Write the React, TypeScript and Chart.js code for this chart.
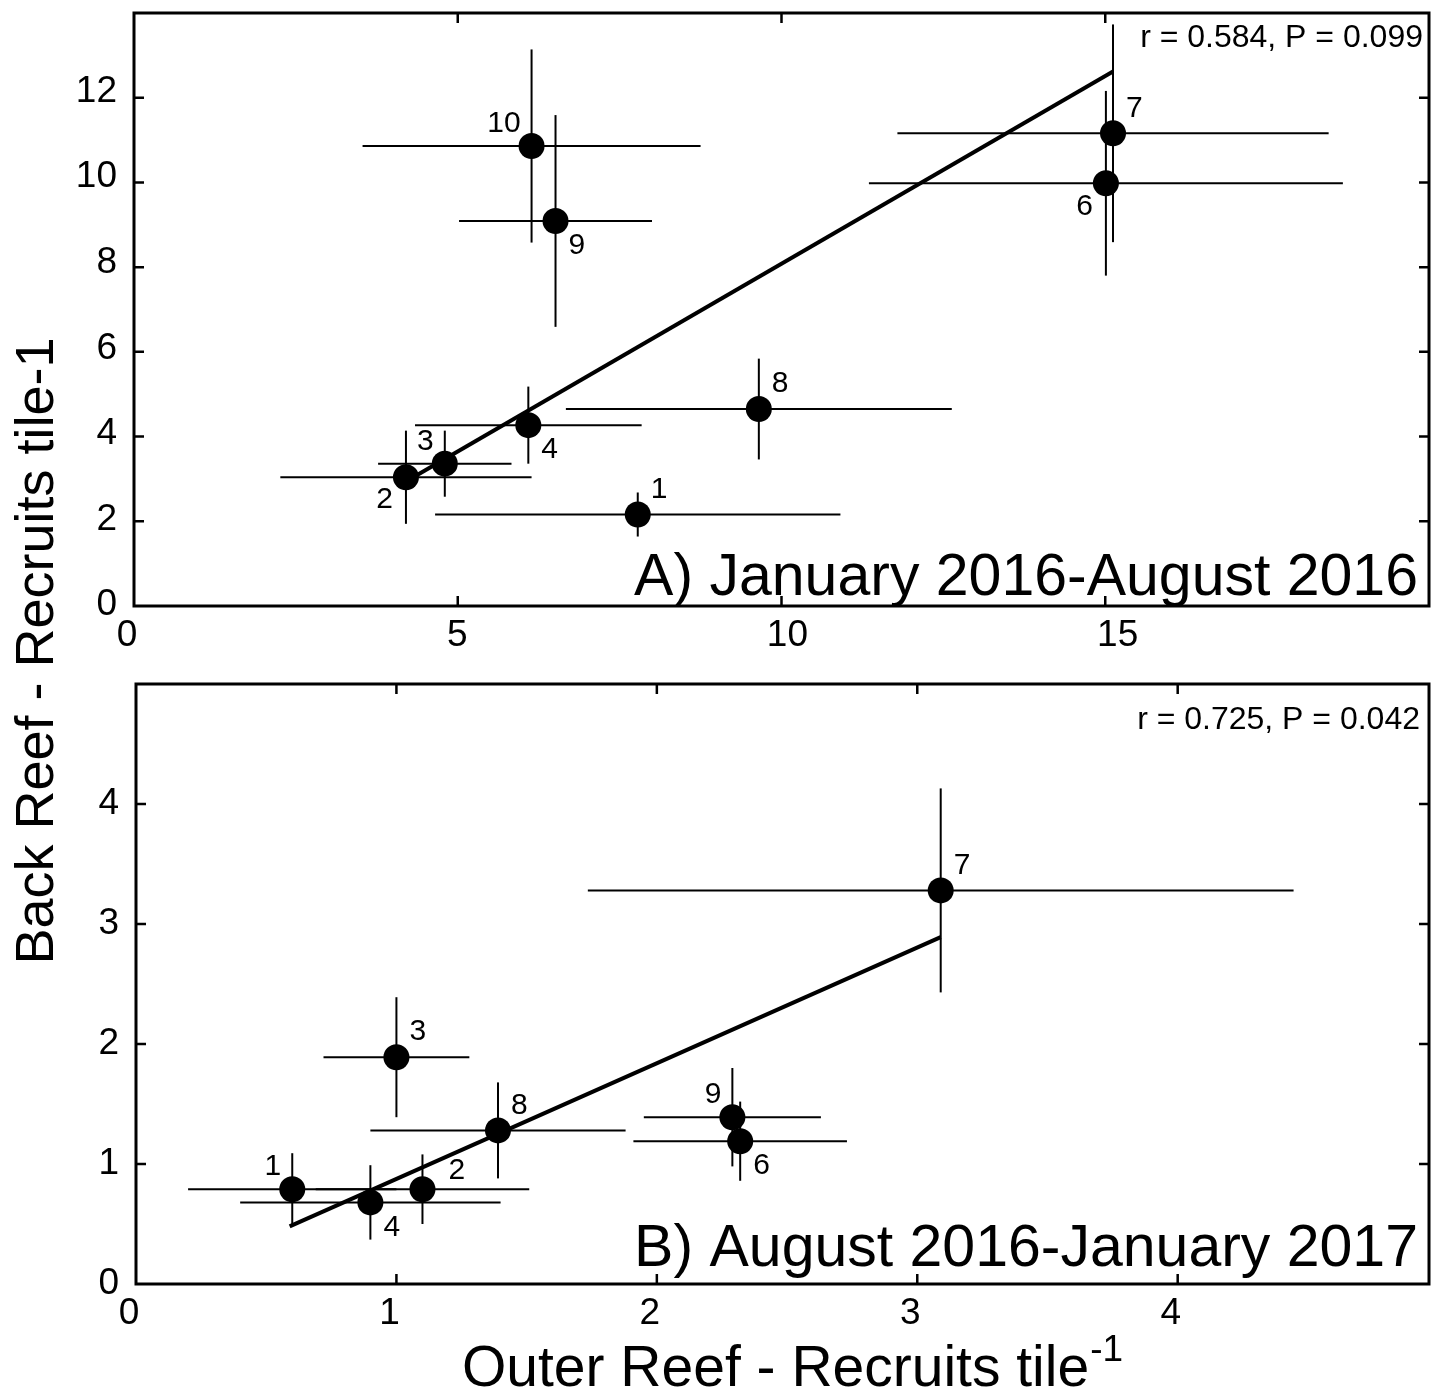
import React, { useEffect, useRef } from 'react';
import { Chart, registerables } from 'chart.js';

Chart.register(...registerables);

const W = 1442;
const H = 1395;
const FONT = '"Liberation Sans", Arial, Helvetica, sans-serif';

// ---------- Panel A: January 2016 - August 2016 ----------
const sitesA = ['1', '2', '3', '4', '6', '7', '8', '9', '10'];
const outerA = [7.78, 4.2, 4.8, 6.09, 15.01, 15.12, 9.65, 6.51, 6.14];
const backA = [2.16, 3.04, 3.36, 4.27, 9.98, 11.16, 4.65, 9.09, 10.86];
const outerErrA = [3.13, 1.94, 1.03, 1.75, 3.66, 3.33, 2.98, 1.49, 2.61];
const backErrA = [0.52, 1.1, 0.78, 0.91, 2.18, 2.57, 1.19, 2.5, 2.28];
const fitOuterA = [4.2, 15.12];
const fitBackA = [2.94, 12.62];
const xTicksA = [0, 5, 10, 15];
const yTicksA = [0, 2, 4, 6, 8, 10, 12];
const statA = 'r = 0.584, P = 0.099';
const titleA = 'A) January 2016-August 2016';

// ---------- Panel B: August 2016 - January 2017 ----------
const sitesB = ['1', '2', '3', '4', '6', '7', '8', '9'];
const outerB = [0.6, 1.1, 1.0, 0.9, 2.32, 3.09, 1.39, 2.29];
const backB = [0.79, 0.79, 1.89, 0.68, 1.19, 3.28, 1.28, 1.39];
const outerErrB = [0.4, 0.41, 0.28, 0.5, 0.41, 1.355, 0.49, 0.34];
const backErrB = [0.3, 0.29, 0.5, 0.31, 0.33, 0.85, 0.4, 0.41];
const fitOuterB = [0.59, 3.09];
const fitBackB = [0.48, 2.89];
const xTicksB = [0, 1, 2, 3, 4];
const yTicksB = [0, 1, 2, 3, 4];
const statB = 'r = 0.725, P = 0.042';
const titleB = 'B) August 2016-January 2017';

const yAxisTitle = 'Back Reef - Recruits tile-1';
const xAxisTitle = 'Outer Reef - Recruits tile';
const xAxisTitleSup = '-1';

// label placement around each marker (style only)
const labelPlaceA = ['ur', 'll', 'ul', 'lr', 'll', 'ur', 'ur', 'lr', 'ul'];
const labelPlaceB = ['ul', 'r', 'ur', 'lr', 'lr', 'ur', 'ur', 'ul'];

type Panel = {
  sites: string[];
  outer: number[];
  back: number[];
  outerErr: number[];
  backErr: number[];
  fitX: number[];
  fitY: number[];
  xTicks: number[];
  yTicks: number[];
  stat: string;
  title: string;
  place: string[];
  box: { left: number; top: number; right: number; bottom: number };
  xMax: number;
  yMax: number;
  // tick-label placement relative to the tick marks (style)
  xLab: { k: number; shift: number };
  yLab: { k: number; shift: number };
  statPos: { x: number; y: number };
  titlePos: { x: number; y: number };
  drawYTitle: boolean;
  drawXTitle: boolean;
};

const panelA: Panel = {
  sites: sitesA, outer: outerA, back: backA, outerErr: outerErrA, backErr: backErrA,
  fitX: fitOuterA, fitY: fitBackA, xTicks: xTicksA, yTicks: yTicksA,
  stat: statA, title: titleA, place: labelPlaceA,
  box: { left: 134, top: 10, right: 1433, bottom: 606 },
  xMax: 20, yMax: 14,
  xLab: { k: 1.02, shift: -7 }, yLab: { k: 1.01, shift: -1 },
  statPos: { x: 1423, y: 47 }, titlePos: { x: 1418, y: 595 },
  drawYTitle: true, drawXTitle: false,
};

const panelB: Panel = {
  sites: sitesB, outer: outerB, back: backB, outerErr: outerErrB, backErr: backErrB,
  fitX: fitOuterB, fitY: fitBackB, xTicks: xTicksB, yTicks: yTicksB,
  stat: statB, title: titleB, place: labelPlaceB,
  box: { left: 136, top: 684, right: 1433, bottom: 1284 },
  xMax: 4.965, yMax: 5,
  xLab: { k: 1, shift: -7 }, yLab: { k: 1, shift: 0 },
  statPos: { x: 1420, y: 729 }, titlePos: { x: 1418, y: 1266 },
  drawYTitle: false, drawXTitle: true,
};

const X_SCALE_H = 60;

function makePlugin(p: Panel) {
  return {
    id: 'panelDecor',
    afterDatasetsDraw(chart: any) {
      const { ctx, chartArea: a } = chart;
      const xs = chart.scales.x;
      const ys = chart.scales.y;
      ctx.save();
      ctx.strokeStyle = '#000';
      ctx.fillStyle = '#000';
      // frame
      ctx.lineWidth = 3;
      ctx.strokeRect(a.left, a.top, a.right - a.left, a.bottom - a.top);
      // inner ticks on all four sides
      ctx.lineWidth = 2.5;
      const TL = 10;
      ctx.beginPath();
      p.xTicks.forEach((v) => {
        const px = xs.getPixelForValue(v);
        if (px <= a.left + 2 || px >= a.right - 2) return;
        ctx.moveTo(px, a.bottom); ctx.lineTo(px, a.bottom - TL);
        ctx.moveTo(px, a.top); ctx.lineTo(px, a.top + TL);
      });
      p.yTicks.forEach((v) => {
        const py = ys.getPixelForValue(v);
        if (py <= a.top + 2 || py >= a.bottom - 2) return;
        ctx.moveTo(a.left, py); ctx.lineTo(a.left + TL, py);
        ctx.moveTo(a.right, py); ctx.lineTo(a.right - TL, py);
      });
      ctx.stroke();

      // tick labels
      ctx.font = `37px ${FONT}`;
      ctx.textBaseline = 'middle';
      ctx.textAlign = 'center';
      p.xTicks.forEach((v) => {
        const px = xs.getPixelForValue(v);
        const lx = a.left + (px - a.left) * p.xLab.k + p.xLab.shift;
        ctx.fillText(String(v), lx, a.bottom + 30);
      });
      ctx.textAlign = 'right';
      p.yTicks.forEach((v) => {
        const py = ys.getPixelForValue(v);
        const ly = a.bottom + (py - a.bottom) * p.yLab.k + p.yLab.shift;
        ctx.fillText(String(v), a.left - 17, ly);
      });

      // site labels
      ctx.font = `30px ${FONT}`;
      ctx.textBaseline = 'middle';
      p.sites.forEach((s, i) => {
        const px = xs.getPixelForValue(p.outer[i]);
        const py = ys.getPixelForValue(p.back[i]);
        const pl = p.place[i];
        let tx = px, ty = py;
        if (pl === 'ur') { ctx.textAlign = 'left'; tx = px + 13; ty = py - 25; }
        else if (pl === 'ul') { ctx.textAlign = 'right'; tx = px - 11; ty = py - 22; }
        else if (pl === 'lr') { ctx.textAlign = 'left'; tx = px + 13; ty = py + 25; }
        else if (pl === 'll') { ctx.textAlign = 'right'; tx = px - 13; ty = py + 23; }
        else { ctx.textAlign = 'left'; tx = px + 26; ty = py - 18; }
        ctx.fillText(s, tx, ty);
      });

      // statistics
      ctx.font = `32px ${FONT}`;
      ctx.textAlign = 'right';
      ctx.textBaseline = 'alphabetic';
      ctx.fillText(p.stat, p.statPos.x, p.statPos.y);

      // panel title
      ctx.font = `59px ${FONT}`;
      ctx.fillText(p.title, p.titlePos.x, p.titlePos.y);

      // shared axis titles
      if (p.drawYTitle) {
        ctx.save();
        ctx.translate(53, 651);
        ctx.rotate(-Math.PI / 2);
        ctx.font = `54px ${FONT}`;
        ctx.textAlign = 'center';
        ctx.textBaseline = 'alphabetic';
        ctx.fillText(yAxisTitle, 0, 0);
        ctx.restore();
      }
      if (p.drawXTitle) {
        ctx.font = `57px ${FONT}`;
        const w1 = ctx.measureText(xAxisTitle).width;
        ctx.font = `37px ${FONT}`;
        const w2 = ctx.measureText(xAxisTitleSup).width;
        const start = 792 - (w1 + w2) / 2;
        ctx.textAlign = 'left';
        ctx.textBaseline = 'alphabetic';
        ctx.font = `57px ${FONT}`;
        ctx.fillText(xAxisTitle, start, 1386);
        ctx.font = `37px ${FONT}`;
        ctx.fillText(xAxisTitleSup, start + w1 + 1, 1361);
      }
      ctx.restore();
    },
  };
}

function buildConfig(p: Panel): any {
  const datasets: any[] = [];
  datasets.push({
    data: p.outer.map((x, i) => ({ x, y: p.back[i] })),
    pointRadius: 13,
    pointHoverRadius: 13,
    pointBackgroundColor: '#000',
    pointBorderColor: '#000',
    pointBorderWidth: 0,
    showLine: false,
    order: 0,
  });
  datasets.push({
    data: p.fitX.map((x, i) => ({ x, y: p.fitY[i] })),
    showLine: true,
    borderColor: '#000',
    borderWidth: 4,
    pointRadius: 0,
    pointHoverRadius: 0,
    order: 1,
  });
  p.outer.forEach((x, i) => {
    const y = p.back[i];
    datasets.push({
      data: [{ x: x - p.outerErr[i], y }, { x: x + p.outerErr[i], y }],
      showLine: true, borderColor: '#000', borderWidth: 2, pointRadius: 0, pointHoverRadius: 0, order: 2,
    });
    datasets.push({
      data: [{ x, y: y - p.backErr[i] }, { x, y: y + p.backErr[i] }],
      showLine: true, borderColor: '#000', borderWidth: 2, pointRadius: 0, pointHoverRadius: 0, order: 2,
    });
  });

  const zeroPad = (s: any) => {
    s.paddingTop = 0; s.paddingBottom = 0; s.paddingLeft = 0; s.paddingRight = 0;
  };

  return {
    type: 'scatter',
    data: { datasets },
    options: {
      responsive: false,
      maintainAspectRatio: false,
      animation: false,
      devicePixelRatio: 1,
      events: [],
      layout: {
        padding: {
          left: 0,
          top: p.box.top,
          right: W - p.box.right,
          bottom: H - p.box.bottom - X_SCALE_H,
        },
      },
      plugins: {
        legend: { display: false },
        tooltip: { enabled: false },
        title: { display: false },
      },
      scales: {
        x: {
          type: 'linear',
          min: 0,
          max: p.xMax,
          grid: { display: false, drawTicks: false },
          border: { display: false },
          afterBuildTicks: (s: any) => { s.ticks = p.xTicks.map((v) => ({ value: v })); },
          afterFit: (s: any) => { s.height = X_SCALE_H; zeroPad(s); },
          ticks: { display: false },
        },
        y: {
          type: 'linear',
          min: 0,
          max: p.yMax,
          grid: { display: false, drawTicks: false },
          border: { display: false },
          afterBuildTicks: (s: any) => { s.ticks = p.yTicks.map((v) => ({ value: v })); },
          afterFit: (s: any) => { s.width = p.box.left; zeroPad(s); },
          ticks: { display: false },
        },
      },
    },
    plugins: [makePlugin(p)],
  };
}

function PanelCanvas({ panel }: { panel: Panel }) {
  const ref = useRef<HTMLCanvasElement>(null);
  useEffect(() => {
    const chart = new Chart(ref.current as HTMLCanvasElement, buildConfig(panel));
    return () => chart.destroy();
  }, [panel]);
  return (
    <canvas
      ref={ref}
      width={W}
      height={H}
      style={{ position: 'absolute', left: 0, top: 0, width: W, height: H }}
    />
  );
}

export default function App() {
  return (
    <div
      style={{
        position: 'fixed',
        left: 0,
        top: 0,
        width: W,
        height: H,
        background: '#fff',
        overflow: 'hidden',
      }}
    >
      <PanelCanvas panel={panelA} />
      <PanelCanvas panel={panelB} />
    </div>
  );
}
